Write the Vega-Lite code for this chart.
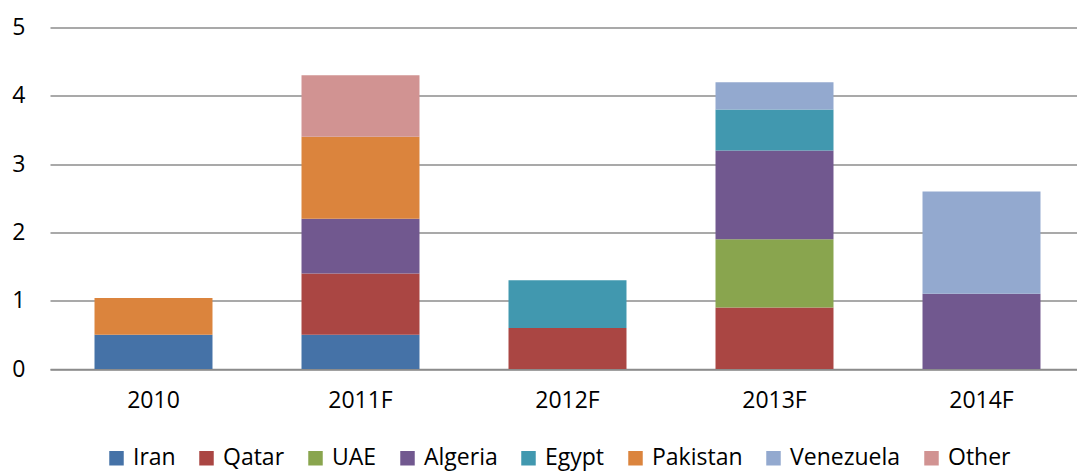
{
  "$schema": "https://vega.github.io/schema/vega-lite/v6.json",
  "width": 1035,
  "height": 341.5,
  "autosize": {"type": "none"},
  "padding": {"left": 50, "top": 27.5, "right": 0, "bottom": 103},
  "background": "white",
  "config": {
    "view": {"stroke": null},
    "font": "Open Sans",
    "axis": {"labelFont": "Open Sans", "labelColor": "#000000"},
    "legend": {"labelFont": "Open Sans"}
  },
  "data": {
    "values": [
      {"year": "2010", "country": "Iran", "value": 0.5},
      {"year": "2010", "country": "Pakistan", "value": 0.54},
      {"year": "2011F", "country": "Iran", "value": 0.5},
      {"year": "2011F", "country": "Qatar", "value": 0.9},
      {"year": "2011F", "country": "Algeria", "value": 0.8},
      {"year": "2011F", "country": "Pakistan", "value": 1.2},
      {"year": "2011F", "country": "Other", "value": 0.9},
      {"year": "2012F", "country": "Qatar", "value": 0.6},
      {"year": "2012F", "country": "Egypt", "value": 0.7},
      {"year": "2013F", "country": "Qatar", "value": 0.9},
      {"year": "2013F", "country": "UAE", "value": 1.0},
      {"year": "2013F", "country": "Algeria", "value": 1.3},
      {"year": "2013F", "country": "Egypt", "value": 0.6},
      {"year": "2013F", "country": "Venezuela", "value": 0.4},
      {"year": "2014F", "country": "Algeria", "value": 1.1},
      {"year": "2014F", "country": "Venezuela", "value": 1.5}
    ]
  },
  "transform": [
    {"calculate": "indexof(['Iran','Qatar','UAE','Algeria','Egypt','Pakistan','Venezuela','Other'], datum.country)", "as": "stackOrder"}
  ],
  "mark": {"type": "bar"},
  "encoding": {
    "x": {
      "field": "year",
      "type": "nominal",
      "sort": ["2010", "2011F", "2012F", "2013F", "2014F"],
      "scale": {"paddingInner": 0.43, "paddingOuter": 0.215},
      "axis": {
        "title": null,
        "labelAngle": 0,
        "labelFontSize": 23,
        "labelPadding": 20,
        "ticks": false,
        "domainColor": "#8c8c8c",
        "domainWidth": 1.5
      }
    },
    "y": {
      "field": "value",
      "type": "quantitative",
      "aggregate": "sum",
      "stack": "zero",
      "scale": {"domain": [0, 5], "nice": false},
      "axis": {
        "title": null,
        "values": [0, 1, 2, 3, 4, 5],
        "labelFontSize": 23,
        "labelPadding": 25,
        "ticks": false,
        "domain": false,
        "gridColor": "#8c8c8c",
        "gridWidth": 1.5
      }
    },
    "order": {"field": "stackOrder", "type": "quantitative", "sort": "ascending"},
    "color": {
      "field": "country",
      "type": "nominal",
      "sort": ["Iran", "Qatar", "UAE", "Algeria", "Egypt", "Pakistan", "Venezuela", "Other"],
      "scale": {
        "domain": ["Iran", "Qatar", "UAE", "Algeria", "Egypt", "Pakistan", "Venezuela", "Other"],
        "range": ["#4572A7", "#AA4643", "#89A54E", "#71588F", "#4198AF", "#DB843D", "#93A9CF", "#D19392"]
      },
      "legend": {
        "title": null,
        "orient": "none",
        "direction": "horizontal",
        "columns": 8,
        "legendX": 55,
        "legendY": 419,
        "symbolType": "square",
        "symbolSize": 210,
        "symbolStrokeWidth": 0,
        "labelFontSize": 23,
        "labelOffset": 5,
        "columnPadding": 19,
        "labelColor": "#000000"
      }
    }
  }
}
